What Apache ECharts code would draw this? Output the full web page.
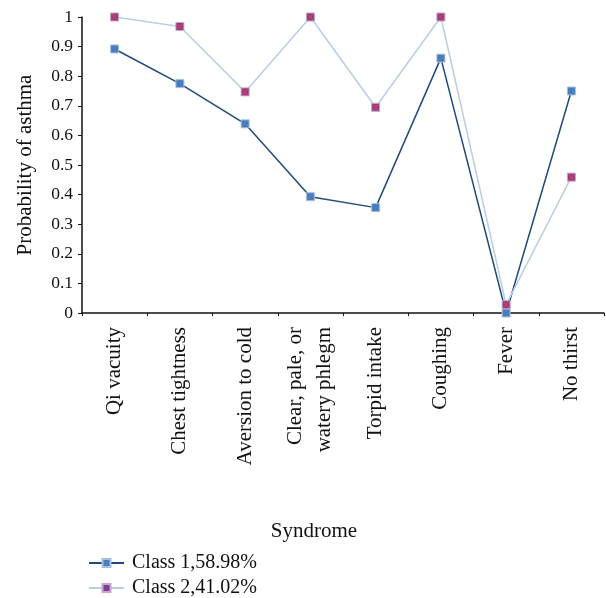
<!DOCTYPE html>
<html>
<head>
<meta charset="utf-8">
<script src="https://cdn.jsdelivr.net/npm/echarts@6/dist/echarts.min.js"></script>
<style>
html,body{margin:0;padding:0;background:#fff;}
#chart{width:606px;height:598px;}
</style>
</head>
<body>
<div id="chart"></div>
<script>
var categories = ['Qi vacuity', 'Chest tightness', 'Aversion to cold', 'Clear, pale, or\nwatery phlegm', 'Torpid intake', 'Coughing', 'Fever', 'No thirst'];
var class1 = [0.892, 0.775, 0.639, 0.393, 0.356, 0.861, 0.0, 0.75];
var class2 = [1.0, 0.968, 0.747, 1.0, 0.695, 1.0, 0.028, 0.459];
var seriesNames = ['Class 1,58.98%', 'Class 2,41.02%'];
var yTicks = [0, 0.1, 0.2, 0.3, 0.4, 0.5, 0.6, 0.7, 0.8, 0.9, 1];

var FONT = 'Liberation Serif';
var chart = echarts.init(document.getElementById('chart'));
var crossPath = 'path://M0,1.5L1.5,0L5,3.5L8.5,0L10,1.5L6.5,5L10,8.5L8.5,10L5,6.5L1.5,10L0,8.5L3.5,5Z';
function legendFor(name, top) {
  return {
    orient: 'vertical',
    left: 83, top: top,
    itemWidth: 35, itemHeight: 10,
    data: [name],
    textStyle: { fontFamily: FONT, fontSize: 20, color: '#111', padding: [0, 0, 0, 3] }
  };
}
chart.setOption({
  animation: false,
  backgroundColor: '#ffffff',
  textStyle: { fontFamily: FONT, color: '#111' },
  title: {
    text: 'Syndrome',
    left: 309, top: 516,
    textAlign: 'center',
    textStyle: { fontFamily: FONT, fontSize: 21, fontWeight: 'normal', color: '#111' }
  },
  legend: [legendFor(seriesNames[0], 548), legendFor(seriesNames[1], 573)],
  grid: { left: 82, right: 2, top: 17, bottom: 285, containLabel: false },
  xAxis: {
    type: 'category',
    data: categories,
    boundaryGap: true,
    axisLine: { lineStyle: { color: '#111', width: 1.5 } },
    axisTick: { show: true, length: 3, inside: false, lineStyle: { color: '#111' } },
    axisLabel: { rotate: 90, margin: 14, fontFamily: FONT, fontSize: 21, color: '#111', lineHeight: 29, interval: 0 },
    splitLine: { show: false }
  },
  yAxis: {
    type: 'value',
    min: 0, max: 1, interval: 0.1,
    name: 'Probability of asthma',
    nameLocation: 'middle',
    nameGap: 46,
    nameTextStyle: { fontFamily: FONT, fontSize: 21, color: '#111' },
    axisLine: { show: true, lineStyle: { color: '#111', width: 1.5 } },
    axisTick: { show: true, length: 4, lineStyle: { color: '#111' } },
    axisLabel: {
      fontFamily: FONT, fontSize: 17.5, color: '#111', margin: 9,
      formatter: function (v) { var r = Math.round(v * 10) / 10; return yTicks.indexOf(r) >= 0 ? String(r) : ''; }
    },
    splitLine: { show: false }
  },
  series: [
    {
      name: seriesNames[0], type: 'line', data: class1,
      symbol: 'rect', symbolSize: 8,
      lineStyle: { color: '#1f497d', width: 1.5 },
      itemStyle: { color: '#4a7ebb', borderColor: '#a7c0de', borderWidth: 1 },
      z: 3
    },
    {
      name: seriesNames[1], type: 'line', data: class2,
      symbol: 'rect', symbolSize: 8,
      lineStyle: { color: '#b9cde5', width: 1.5 },
      itemStyle: { color: '#7d3f8e', borderColor: '#c6a6d2', borderWidth: 1 },
      z: 4
    },
    {
      name: 'cross', type: 'scatter', data: class2,
      symbol: crossPath, symbolSize: 7,
      itemStyle: { color: '#e0404a' },
      silent: true, z: 5
    }
  ]
});
</script>
</body>
</html>
